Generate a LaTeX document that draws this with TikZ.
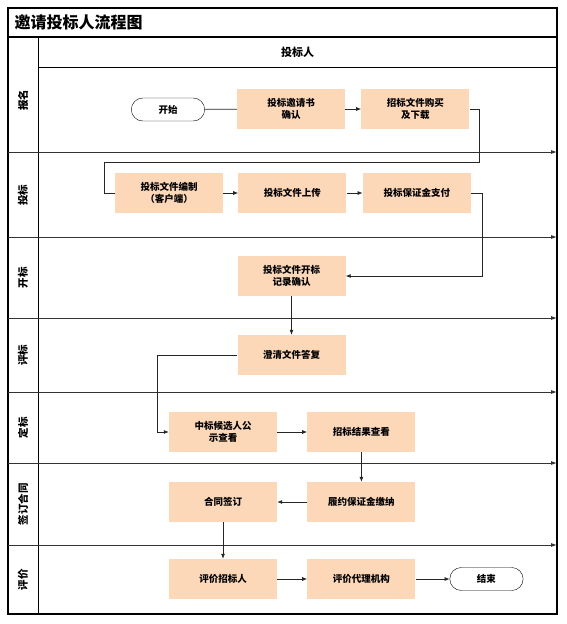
\documentclass[tikz,border=0pt]{standalone}
\usepackage{fontspec}
\setmainfont{Noto Sans CJK SC}
\usetikzlibrary{positioning, arrows.meta, shapes.misc}
\definecolor{peach}{HTML}{FCD7B8}

\begin{document}
\begin{tikzpicture}[
    x=1pt, y=-1pt,
    node distance=15pt and 15pt,
    task/.style={rectangle, fill=peach, minimum width=108pt, minimum height=40pt,
                 text width=100pt, align=center, inner sep=0pt,
                 font=\fontsize{9.5}{12}\selectfont\bfseries},
    term/.style={rounded rectangle, draw, fill=white, minimum width=80pt,
                 minimum height=23pt, font=\fontsize{9.5}{12}\selectfont\bfseries},
    lanelabel/.style={rotate=90, font=\fontsize{10.5}{12}\selectfont\bfseries},
    frame/.style={line width=1.1pt},
    lane/.style={-{Latex[length=6pt, width=4pt]}, line width=0.9pt, black!80},
    link/.style={line width=0.7pt, black!85},
    arr/.style={-{Latex[length=5pt, width=4pt]}, line width=0.7pt, black!85}
]
\useasboundingbox (0,0) rectangle (566,624);

% frame and swimlanes
\draw[frame] (8,8) rectangle (557,614);
\draw[frame] (8,37) -- (557,37);
\draw[line width=0.9pt] (38,37) -- (38,614);
\draw[line width=0.9pt] (38,67) -- (557,67);
\foreach \y in {152,237,318,392,463,545}
  \draw[lane] (8,\y) -- (557,\y);

\node[anchor=west, font=\fontsize{16}{18}\selectfont\bfseries] (title) at (11,22.5) {邀请投标人流程图};
\node[font=\fontsize{11}{13}\selectfont\bfseries] (actor) at (297.5,52) {投标人};

\node[lanelabel] (signup) at (23,100) {报名};
\node[lanelabel] (bidding) at (23,195) {投标};
\node[lanelabel] (opening) at (23,277.5) {开标};
\node[lanelabel] (review) at (23,355) {评标};
\node[lanelabel] (award) at (23,427.5) {定标};
\node[lanelabel] (contract) at (23,504) {签订合同};
\node[lanelabel] (rating) at (23,579.5) {评价};

% steps
\node[term] (start) at (168,109.5) {开始};
\node[task] (invite) at (291,109) {投标邀请书\\确认};
\node[task, right=16pt of invite] (buy) {招标文件购买\\及下载};

\node[task] (compile) at (169,193) {投标文件编制\\（客户端）};
\node[task, right=of compile] (upload) {投标文件上传};
\node[task, right=16pt of upload] (bond) {投标保证金支付};

\node[task] (record) at (291.5,276) {投标文件开标\\记录确认};
\node[task] (clarify) at (291.5,355) {澄清文件答复};

\node[task] (publicity) at (223,432) {中标候选人公\\示查看};
\node[task, right=30pt of publicity] (result) {招标结果查看};

\node[task] (sign) at (223,502) {合同签订};
\node[task, right=30pt of sign] (perform) {履约保证金缴纳};

\node[task] (rateowner) at (223,579) {评价招标人};
\node[task, right=30pt of rateowner] (rateagent) {评价代理机构};
\node[term, right=34pt of rateagent] (finish) {结束};

\coordinate (loopR) at (479,162);
\coordinate (loopL) at (104,162);

\draw[link] (start) -- (invite);
\draw[arr] (invite) -- (buy);
\draw[link] (buy.east) -| (loopR) -- (loopL) |- (compile.west);
\draw[arr] (compile) -- (upload);
\draw[arr] (upload) -- (bond);
\draw[arr] (bond.east) -- ++(11,0) |- (record.east);
\draw[arr] (record) -- (clarify);
\draw[arr] (clarify.west) -- ++(-80,0) |- (publicity.west);
\draw[arr] (publicity) -- (result);
\draw[arr] (result) -- (perform);
\draw[arr] (perform) -- (sign);
\draw[arr] (sign) -- (rateowner);
\draw[arr] (rateowner) -- (rateagent);
\draw[arr] (rateagent) -- (finish);
\end{tikzpicture}
\end{document}
